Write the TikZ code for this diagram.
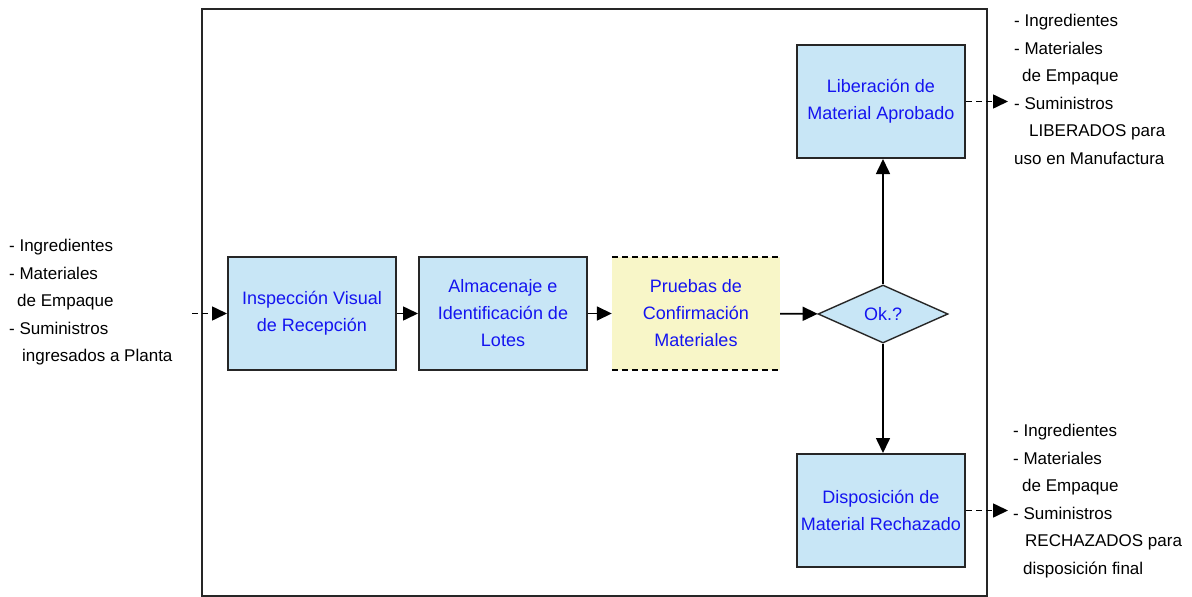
\documentclass[tikz,border=0pt]{standalone}
\usepackage{fontspec}
\setmainfont{Liberation Sans}
\usetikzlibrary{arrows.meta,shapes.geometric}
\definecolor{boxblue}{HTML}{C8E6F6}
\definecolor{boxyellow}{HTML}{F8F6C8}
\definecolor{txtblue}{HTML}{1414F0}
\begin{document}
\begin{tikzpicture}[x=1pt,y=-1pt,
  procbox/.style={draw=black!85, line width=2pt, fill=boxblue, minimum width=168pt, minimum height=113pt,
    text=txtblue, align=center, font=\fontsize{18}{27}\selectfont, inner sep=0pt},
  testbox/.style={fill=boxyellow, minimum width=168pt, minimum height=113pt,
    text=txtblue, align=center, font=\fontsize{18}{27}\selectfont, inner sep=0pt},
  decision/.style={shape=diamond, draw=black!85, line width=1.4pt, fill=boxblue, minimum width=130pt, minimum height=58pt,
    aspect=2.24, inner sep=0pt, text=txtblue, font=\fontsize{18}{20}\selectfont},
  sidetext/.style={align=left, font=\fontsize{17}{27.5}\selectfont, inner sep=0pt, anchor=north west},
  flow/.style={line width=1.6pt, -{Triangle[length=15pt,width=14pt]}},
  dflow/.style={flow, dash pattern=on 6pt off 4pt},
  edge/.style={line width=1.6pt, dash pattern=on 6pt off 4pt}
]
\useasboundingbox (0,0) rectangle (1192,597);
\fill[white] (0,0) rectangle (1192,597);
\draw[line width=2.4pt, black!85] (202,9) rectangle (987,596);

\node[procbox] (b1) at (312,313.5) {Inspección Visual\\de Recepción};
\node[procbox] (b2) at (503,313.5) {Almacenaje e\\Identificación de\\Lotes};
\node[testbox] (b3) at (696,313.5) {Pruebas de\\Confirmación\\Materiales};
\draw[edge] (b3.north west) -- (b3.north east);
\draw[edge] (b3.south west) -- (b3.south east);
\node[decision] (ok) at (883,314) {Ok.?};
\node[procbox] (lib) at (881,101.5) {Liberación de\\Material Aprobado};
\node[procbox] (dis) at (881,510.5) {Disposición de\\Material Rechazado};

\coordinate (in) at (192,313.5);
\coordinate (outA) at (1008,101.5);
\coordinate (outB) at (1008,510.5);

\draw[dflow] (in) -- (b1.west);
\draw[flow] (b1) -- (b2);
\draw[flow] (b2) -- (b3);
\draw[flow] (b3) -- (ok);
\draw[flow] (ok.north) -- (ok.north |- lib.south);
\draw[flow] (ok.south) -- (ok.south |- dis.north);
\draw[dflow] (lib.east) -- (outA);
\draw[dflow] (dis.east) -- (outB);

\node[sidetext] (tin) at (9,239) {- Ingredientes\\- Materiales\\\hspace*{8pt}de Empaque\\- Suministros\\\hspace*{13pt}ingresados a Planta};
\node[sidetext] (tlib) at (1014,14) {- Ingredientes\\- Materiales\\\hspace*{8pt}de Empaque\\- Suministros\\\hspace*{15pt}LIBERADOS para\\uso en Manufactura};
\node[sidetext] (tdis) at (1013,424) {- Ingredientes\\- Materiales\\\hspace*{9pt}de Empaque\\- Suministros\\\hspace*{12pt}RECHAZADOS para\\\hspace*{10pt}disposición final};
\end{tikzpicture}
\end{document}
